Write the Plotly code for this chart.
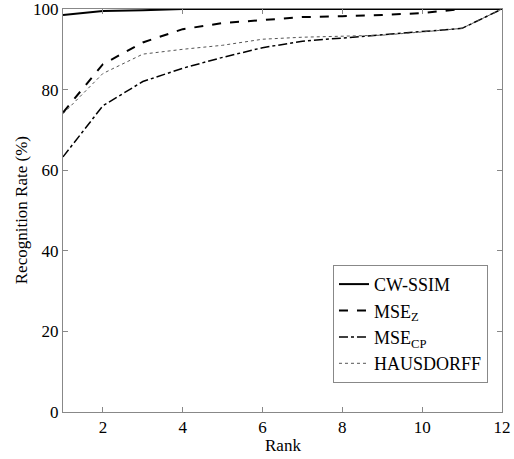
import plotly.graph_objects as go

rank = [1, 2, 3, 4, 5, 6, 7, 8, 9, 10, 11, 12]
cw_ssim = [98.5, 99.5, 99.7, 100, 100, 100, 100, 100, 100, 100, 100, 100]
mse_z = [74.3, 86.3, 91.7, 95.0, 96.5, 97.2, 98.0, 98.2, 98.5, 99.0, 100, 100]
mse_cp = [63.3, 76.0, 82.0, 85.3, 88.0, 90.4, 92.0, 92.8, 93.5, 94.3, 95.2, 100]
hausdorff = [74.0, 84.0, 88.8, 90.0, 91.0, 92.5, 93.0, 93.3, 93.5, 94.3, 95.2, 100]

names = ["CW-SSIM", "MSE<sub>Z</sub>", "MSE<sub>CP</sub>", "HAUSDORFF"]
x_title = "Rank"
y_title = "Recognition Rate (%)"

FONT = "Times New Roman, Liberation Serif, serif"

fig = go.Figure()
fig.add_trace(go.Scatter(x=rank, y=cw_ssim, mode="lines", name=names[0],
                         line=dict(color="black", width=2, dash="solid")))
fig.add_trace(go.Scatter(x=rank, y=mse_z, mode="lines", name=names[1],
                         line=dict(color="black", width=2, dash="dash")))
fig.add_trace(go.Scatter(x=rank, y=mse_cp, mode="lines", name=names[2],
                         line=dict(color="black", width=1.5, dash="dashdot")))
fig.add_trace(go.Scatter(x=rank, y=hausdorff, mode="lines", name=names[3],
                         line=dict(color="#555555", width=1, dash="dot")))

axis_common = dict(showgrid=False, zeroline=False, showline=True, linecolor="#888888",
                   linewidth=1, mirror="ticks", ticks="inside", ticklen=5, automargin=False,
                   ticklabeloverflow="allow",
                   tickcolor="#888888", tickfont=dict(family=FONT, size=17, color="black"))

fig.update_layout(
    width=514, height=459,
    margin=dict(l=63, r=12, t=9, b=47),
    plot_bgcolor="white", paper_bgcolor="white",
    font=dict(family=FONT, size=17, color="black"),
    xaxis=dict(range=[1, 12], dtick=2, tick0=0, **axis_common),
    yaxis=dict(range=[0, 100], dtick=20, **axis_common),
    legend=dict(x=0.615, y=0.365, xanchor="left", yanchor="top",
                bordercolor="#888888", borderwidth=1, bgcolor="white",
                font=dict(family=FONT, size=18, color="black"),
                tracegroupgap=4, itemwidth=30),
    showlegend=True,
    annotations=[
        dict(text=x_title, xref="paper", yref="paper", x=0.5, y=-0.082,
             xanchor="center", yanchor="middle", showarrow=False,
             font=dict(family=FONT, size=17, color="black")),
        dict(text=y_title, xref="paper", yref="paper", x=-0.094, y=0.5,
             xanchor="center", yanchor="middle", textangle=-90, showarrow=False,
             font=dict(family=FONT, size=17, color="black")),
    ],
)

fig.write_html("out.html", config={"displayModeBar": False},
               post_script="document.body.style.margin='0';document.body.style.padding='0';")
